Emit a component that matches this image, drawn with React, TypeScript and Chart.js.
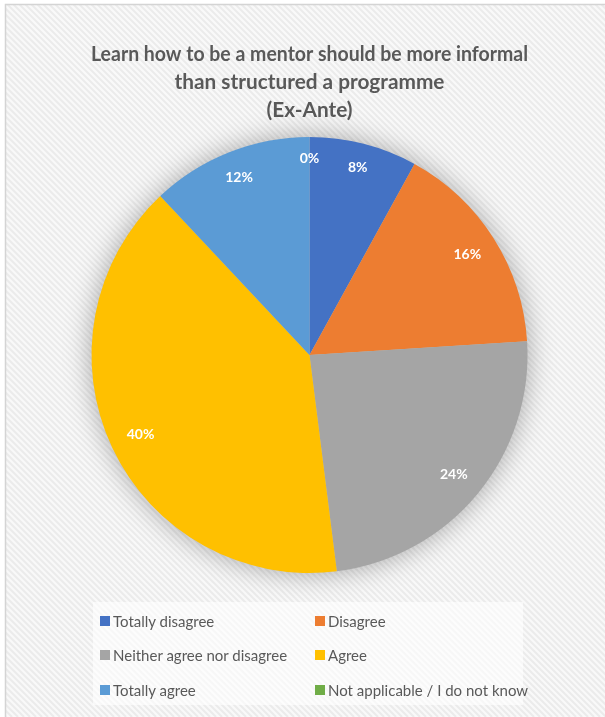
import React, { useEffect, useRef } from "react";
import { Chart, registerables } from "chart.js";

Chart.register(...registerables);

const TITLE_LINES = [
  "Learn how to be a mentor should be more informal",
  "than structured a programme",
  "(Ex-Ante)",
];
const CATEGORIES = [
  "Totally disagree",
  "Disagree",
  "Neither agree nor disagree",
  "Agree",
  "Totally agree",
  "Not applicable / I do not know",
];
const VALUES = [8, 16, 24, 40, 12, 0];
const COLORS = ["#4472C4", "#ED7D31", "#A5A5A5", "#FFC000", "#5B9BD5", "#70AD47"];

const FONT = "Lato, 'Open Sans', sans-serif";
const TEXT_COLOR = "#595959";

const backgroundPlugin = {
  id: "bgHatch",
  beforeDraw(chart: any) {
    const { ctx, width, height } = chart;
    ctx.save();
    ctx.fillStyle = "#ffffff";
    ctx.fillRect(0, 0, width, height);
    ctx.beginPath();
    ctx.rect(5, 4, width - 5, height - 4);
    ctx.clip();
    ctx.fillStyle = "#f9f9f9";
    ctx.fillRect(0, 0, width, height);
    ctx.strokeStyle = "#ebebeb";
    ctx.lineWidth = 2;
    ctx.beginPath();
    for (let k = -height; k < width + 10; k += 6) {
      ctx.moveTo(k, 0);
      ctx.lineTo(k + height, height);
    }
    ctx.stroke();
    ctx.restore();
    ctx.save();
    ctx.strokeStyle = "#d4d4d4";
    ctx.lineWidth = 1.5;
    ctx.beginPath();
    ctx.moveTo(5.5, height);
    ctx.lineTo(5.5, 4.5);
    ctx.lineTo(width, 4.5);
    ctx.stroke();
    ctx.restore();
  },
};

const shadowPlugin = {
  id: "pieShadow",
  beforeDatasetsDraw(chart: any) {
    const meta = chart.getDatasetMeta(0);
    const arc = meta.data[0];
    if (!arc) return;
    const { x, y, outerRadius } = arc.getProps(["x", "y", "outerRadius"], true);
    const ctx = chart.ctx;
    ctx.save();
    ctx.shadowColor = "rgba(0,0,0,0.35)";
    ctx.shadowBlur = 28;
    ctx.fillStyle = "#bdbdbd";
    ctx.beginPath();
    ctx.arc(x, y, outerRadius - 1, 0, Math.PI * 2);
    ctx.fill();
    ctx.restore();
  },
};

// "Inside end" placement: label box pushed out until its far corner touches an inner circle
const labelPlugin = {
  id: "sliceLabels",
  afterDatasetsDraw(chart: any) {
    const meta = chart.getDatasetMeta(0);
    const ctx = chart.ctx;
    ctx.save();
    ctx.font = `bold 14px ${FONT}`;
    ctx.fillStyle = "#ffffff";
    ctx.textAlign = "center";
    ctx.textBaseline = "middle";
    meta.data.forEach((arc: any, i: number) => {
      const { x, y, startAngle, endAngle, outerRadius } = arc.getProps(
        ["x", "y", "startAngle", "endAngle", "outerRadius"],
        true
      );
      const text = `${VALUES[i]}%`;
      const mid = (startAngle + endAngle) / 2;
      const c = Math.cos(mid);
      const s = Math.sin(mid);
      const w = ctx.measureText(text).width + 4;
      const h = 14;
      const R = outerRadius - 14;
      const b = Math.abs(c) * w + Math.abs(s) * h;
      const C = (w * w + h * h) / 4 - R * R;
      const d = (-b + Math.sqrt(b * b - 4 * C)) / 2;
      ctx.fillText(text, x + c * d, y + s * d);
    });
    ctx.restore();
  },
};

export default function App() {
  const canvasRef = useRef<HTMLCanvasElement>(null);

  useEffect(() => {
    if (!canvasRef.current) return;
    const chart = new Chart(canvasRef.current, {
      type: "pie",
      data: {
        labels: CATEGORIES,
        datasets: [
          {
            data: VALUES,
            backgroundColor: COLORS,
            borderWidth: 0,
          },
        ],
      },
      options: {
        responsive: false,
        animation: false,
        devicePixelRatio: 1,
        layout: { padding: { left: 91, right: 77, top: 0, bottom: 144 } },
        plugins: {
          legend: { display: false },
          tooltip: { enabled: false },
          title: {
            display: true,
            text: TITLE_LINES,
            color: TEXT_COLOR,
            font: { family: FONT, size: 20.8, weight: "bold", lineHeight: 1.35 },
            padding: { top: 40, bottom: 137 - 40 - 3 * 20.8 * 1.35 },
          },
        },
      },
      plugins: [backgroundPlugin, shadowPlugin, labelPlugin],
    });
    return () => chart.destroy();
  }, []);

  const colX = [100, 315];
  const rowY = [621, 655, 690];

  return (
    <div style={{ position: "absolute", left: 0, top: 0, width: 605, height: 717, overflow: "hidden" }}>
      <canvas ref={canvasRef} width={605} height={717} style={{ display: "block", width: 605, height: 717 }} />
      <div
        style={{
          position: "absolute",
          left: 93,
          top: 602,
          width: 430,
          height: 103,
          background: "rgba(255,255,255,0.6)",
        }}
      />
      {CATEGORIES.map((c, i) => (
        <div
          key={c}
          style={{
            position: "absolute",
            left: colX[i % 2],
            top: rowY[Math.floor(i / 2)] - 10,
            height: 20,
            display: "flex",
            alignItems: "center",
            whiteSpace: "nowrap",
            fontFamily: FONT,
            fontSize: 15,
            color: TEXT_COLOR,
          }}
        >
          <span style={{ display: "inline-block", width: 10, height: 10, background: COLORS[i], marginRight: 3 }} />
          <span>{c}</span>
        </div>
      ))}
    </div>
  );
}
